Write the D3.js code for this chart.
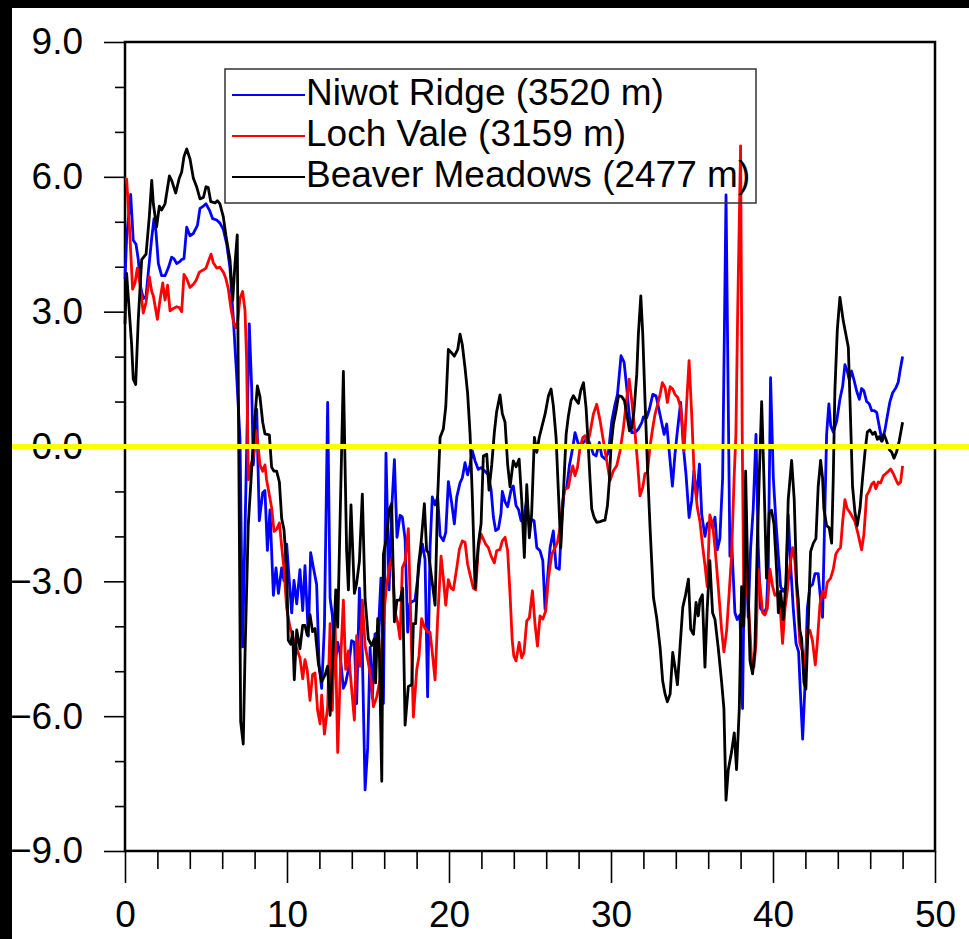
<!DOCTYPE html>
<html>
<head>
<meta charset="utf-8">
<script src="https://cdn.jsdelivr.net/npm/d3@7"></script>
<style>
  body { margin: 0; background: #fff; }
  text { font-family: "Liberation Sans", Arial, Helvetica, sans-serif; }
</style>
</head>
<body>
<div id="chart"></div>
<script>
// series names and colours
var seriesNames = ["Niwot Ridge (3520 m)", "Loch Vale (3159 m)", "Beaver Meadows (2477 m)"];
var seriesColors = ["#0000ff", "#ff0000", "#000000"];

// tick values
var yMajorTicks = [-9, -6, -3, 0, 3, 6, 9];
var yMinorTicks = [-8, -7, -5, -4, -2, -1, 1, 2, 4, 5, 7, 8];
var xMajorTicks = [0, 10, 20, 30, 40, 50];
var xMinorTicks = [2, 4, 6, 8, 12, 14, 16, 18, 22, 24, 26, 28, 32, 34, 36, 38, 42, 44, 46, 48];

// [time, value]
var niwot = [[0,3.73],[0.10,4.64],[0.35,5.61],[0.51,4.59],[0.68,4.5],[0.82,4.16],[0.97,3.54],[1.13,3.29],[1.30,3.35],[1.44,3.88],[1.65,4.64],[1.79,5.07],[1.91,4.78],[2.06,4.07],[2.26,3.8],[2.47,3.8],[2.67,3.97],[2.88,4.21],[3.02,4.18],[3.19,4.07],[3.40,4.12],[3.50,4.16],[3.64,4.18],[3.81,4.88],[4.01,4.69],[4.22,4.74],[4.47,4.92],[4.63,5.3],[4.84,5.35],[5.0,5.4],[5.21,5.26],[5.41,5.07],[5.66,5.04],[5.86,4.97],[6.07,4.83],[6.28,4.5],[6.48,3.97],[6.69,2.83],[6.89,1.59],[7.10,0.16],[7.26,-4.46],[7.47,-0.79],[7.67,2.73],[7.82,1.3],[7.92,-0.41],[8.13,0.83],[8.29,-1.65],[8.50,-1.03],[8.64,-0.98],[8.79,-2.31],[8.95,-1.41],[9.16,-3.31],[9.32,-2.7],[9.47,-3.27],[9.67,-2.7],[9.81,-2.98],[9.98,-2.17],[10.14,-2.98],[10.29,-3.7],[10.43,-2.98],[10.6,-3.5],[10.8,-2.74],[10.97,-3.65],[11.11,-2.65],[11.32,-4.22],[11.46,-2.36],[11.63,-2.7],[11.83,-3.07],[11.98,-4.85],[12.14,-5.38],[12.31,-4.0],[12.51,0.98],[12.66,-3.38],[12.8,-3.76],[12.96,-4.89],[13.13,-4.36],[13.27,-4.6],[13.48,-5.38],[13.62,-5.26],[13.79,-4.96],[13.99,-4.32],[14.16,-4.36],[14.3,-5.72],[14.47,-3.15],[14.65,-4.59],[14.82,-7.64],[14.98,-6.7],[15.13,-4.47],[15.27,-5.6],[15.43,-4.17],[15.64,-4.13],[15.8,-2.93],[15.95,-5.72],[16.11,-0.15],[16.3,-3.19],[16.46,-1.42],[16.63,-0.29],[16.79,-2.02],[16.98,-1.53],[17.12,-1.57],[17.29,-2.06],[17.45,-4.13],[17.59,-3.49],[17.74,-3.45],[17.9,-3.42],[18.07,-2.93],[18.21,-2.47],[18.36,-2.17],[18.52,-2.51],[18.68,-5.57],[18.83,-2.25],[18.97,-1.12],[19.14,-1.3],[19.3,-1.12],[19.45,-1.98],[19.65,-2.1],[19.8,-1.91],[19.96,-0.78],[20.17,-1.27],[20.33,-1.72],[20.48,-1.12],[20.68,-0.81],[20.82,-0.7],[20.99,-0.36],[21.15,-0.63],[21.3,-0.4],[21.44,-0.1],[21.61,-0.32],[21.81,-0.51],[21.98,-0.47],[22.22,-0.55],[22.43,-0.63],[22.6,-0.97],[22.74,-1.57],[22.88,-1.87],[23.05,-1.83],[23.21,-1.49],[23.29,-1.0],[23.46,-1.23],[23.62,-1.34],[23.83,-0.97],[23.97,-0.88],[24.14,-1.32],[24.29,-1.4],[24.45,-1.65],[24.59,-1.69],[24.8,-1.17],[24.96,-1.8],[25.1,-1.62],[25.25,-1.65],[25.42,-2.25],[25.62,-2.32],[25.79,-2.54],[25.93,-3.62],[26.07,-2.99],[26.24,-2.25],[26.44,-1.88],[26.61,-2.69],[26.81,-2.73],[26.96,-1.65],[27.1,-0.99],[27.27,-0.91],[27.43,-0.43],[27.64,-0.02],[27.78,0.31],[27.99,0.05],[28.2,0.05],[28.4,0.13],[28.54,0.2],[28.71,0.05],[28.91,-0.17],[29.08,-0.21],[29.28,0.09],[29.43,-0.21],[29.63,-0.28],[29.84,-0.13],[30.05,0.57],[30.25,0.94],[30.4,1.16],[30.62,2.02],[30.81,1.87],[30.97,1.31],[31.14,0.65],[31.28,0.31],[31.49,0.31],[31.69,0.39],[31.9,0.53],[32.0,0.66],[32.2,0.64],[32.37,0.83],[32.58,1.16],[32.78,1.13],[32.93,0.87],[33.13,0.53],[33.28,0.27],[33.44,0.5],[33.6,-0.13],[33.79,-0.88],[33.95,-0.17],[34.1,0.35],[34.3,0.98],[34.47,-0.02],[34.63,-0.62],[34.82,-1.58],[34.98,-1.21],[35.12,-0.54],[35.29,-1.14],[35.46,-0.39],[35.6,-1.51],[35.8,-2.0],[35.94,-1.72],[36.1,-1.67],[36.27,-1.81],[36.42,-1.57],[36.56,-2.3],[36.72,-2.05],[36.89,-0.7],[37.1,5.6],[37.34,-2.44],[37.44,-2.05],[37.65,-3.7],[37.79,-3.85],[37.96,-3.75],[38.12,-5.83],[38.27,-1.57],[38.47,-3.8],[38.62,-2.25],[38.78,-1.38],[38.95,0.27],[39.09,-2.25],[39.23,-3.6],[39.44,-3.7],[39.6,-3.6],[39.71,-2.64],[39.85,1.53],[40.02,-0.7],[40.18,-1.67],[40.33,-2.44],[40.47,-3.12],[40.63,-3.22],[40.8,-3.12],[40.94,-1.52],[41.09,-2.64],[41.25,-3.6],[41.42,-4.38],[41.58,-4.57],[41.7,-5.54],[41.83,-6.51],[41.97,-5.35],[42.12,-3.6],[42.28,-3.12],[42.44,-3.07],[42.59,-2.83],[42.79,-2.83],[42.94,-3.41],[43.06,-3.8],[43.21,-1.28],[43.31,0.27],[43.45,0.95],[43.56,0.47],[43.72,0.32],[43.93,0.56],[44.13,1.05],[44.3,1.34],[44.44,1.82],[44.58,1.68],[44.71,1.48],[44.85,1.68],[45.0,1.48],[45.16,1.24],[45.33,1.05],[45.47,1.29],[45.61,1.24],[45.78,1.0],[45.94,0.95],[46.09,0.8],[46.23,0.8],[46.4,0.76],[46.5,0.56],[46.6,0.37],[46.74,0.12],[46.91,0.37],[47.05,0.66],[47.22,1.0],[47.38,1.19],[47.59,1.31],[47.73,1.43],[47.84,1.68],[48.0,2.0]];

var lochVale = [[0,5.95],[0.10,5.95],[0.27,4.92],[0.47,3.5],[0.62,3.64],[0.76,3.97],[0.93,3.59],[1.13,2.97],[1.30,3.21],[1.50,3.78],[1.65,3.45],[1.75,3.35],[2.0,2.83],[2.16,3.26],[2.33,3.64],[2.47,3.26],[2.63,3.59],[2.78,3.02],[2.98,3.07],[3.19,3.11],[3.35,3.09],[3.50,3.0],[3.64,3.83],[3.81,3.73],[4.01,3.54],[4.22,3.61],[4.38,3.69],[4.59,3.88],[4.79,3.92],[5.0,3.97],[5.14,4.11],[5.31,4.28],[5.45,4.09],[5.66,3.97],[5.86,3.99],[6.07,3.88],[6.23,3.73],[6.38,3.5],[6.54,3.07],[6.69,2.78],[6.83,2.64],[6.95,2.78],[7.10,3.3],[7.26,3.45],[7.41,3.02],[7.51,1.88],[7.61,-0.74],[7.78,-0.41],[7.92,-0.22],[8.09,0.35],[8.23,-0.03],[8.33,-0.41],[8.50,-0.55],[8.64,-0.41],[8.74,-0.74],[8.91,-1.08],[9.05,-1.36],[9.20,-1.89],[9.36,-1.84],[9.53,-1.7],[9.67,-2.22],[9.81,-2.7],[9.98,-3.6],[10.19,-4.03],[10.39,-4.27],[10.6,-4.5],[10.8,-4.7],[10.97,-5.17],[11.11,-4.74],[11.25,-4.98],[11.42,-5.65],[11.58,-5.07],[11.73,-5.04],[11.89,-5.87],[12.04,-6.17],[12.14,-5.53],[12.31,-6.4],[12.51,-5.79],[12.66,-3.94],[12.8,-5.87],[12.96,-3.76],[13.13,-6.81],[13.33,-4.6],[13.48,-3.42],[13.62,-4.96],[13.79,-4.55],[13.95,-5.23],[14.16,-6.09],[14.3,-4.21],[14.51,-4.89],[14.65,-3.42],[14.82,-4.43],[15.02,-4.81],[15.19,-5.19],[15.33,-5.79],[15.54,-5.57],[15.74,-5.19],[15.95,-3.83],[16.15,-3.08],[16.36,-2.62],[16.5,-2.47],[16.67,-3.68],[16.83,-3.91],[16.98,-4.28],[17.12,-2.7],[17.29,-2.55],[17.49,-1.83],[17.66,-4.13],[17.8,-6.02],[18.01,-4.96],[18.15,-4.66],[18.31,-3.83],[18.48,-4.02],[18.68,-4.13],[18.83,-4.13],[18.97,-4.59],[19.14,-5.19],[19.3,-3.83],[19.51,-2.44],[19.65,-2.93],[19.8,-3.53],[19.96,-2.96],[20.12,-3.15],[20.27,-3.19],[20.48,-2.7],[20.64,-2.29],[20.82,-2.1],[20.99,-2.13],[21.15,-2.62],[21.3,-2.85],[21.5,-3.15],[21.65,-3.19],[21.81,-2.25],[21.98,-1.95],[22.12,-2.06],[22.26,-2.17],[22.43,-2.25],[22.6,-2.44],[22.8,-2.59],[22.94,-2.32],[23.15,-2.29],[23.29,-2.1],[23.46,-2.02],[23.62,-2.32],[23.77,-3.3],[23.9,-4.3],[24.0,-4.66],[24.14,-4.77],[24.33,-4.36],[24.49,-4.7],[24.63,-4.58],[24.8,-3.88],[24.96,-3.81],[25.15,-3.21],[25.31,-3.95],[25.46,-4.44],[25.62,-3.77],[25.79,-3.84],[25.97,-3.66],[26.14,-2.92],[26.34,-2.4],[26.55,-2.25],[26.69,-2.14],[26.86,-1.8],[27.02,-1.21],[27.16,-0.95],[27.37,-0.91],[27.51,-0.62],[27.64,-0.43],[27.78,-0.65],[27.93,-0.47],[28.09,-0.02],[28.26,0.2],[28.4,0.24],[28.54,0.05],[28.71,0.31],[28.91,0.72],[29.12,0.94],[29.33,0.57],[29.53,0.13],[29.74,-0.32],[29.94,-0.76],[30.15,-0.54],[30.35,-0.43],[30.56,-0.1],[30.77,0.42],[30.93,0.94],[31.12,1.5],[31.28,1.02],[31.49,0.27],[31.63,-0.32],[31.79,-1.1],[31.96,-0.91],[32.1,-0.6],[32.25,-0.58],[32.41,0.01],[32.58,0.42],[32.72,0.72],[32.88,0.94],[33.03,1.16],[33.17,1.42],[33.34,1.31],[33.48,0.98],[33.65,1.33],[33.81,1.28],[33.95,1.16],[34.12,1.09],[34.3,0.87],[34.43,0.35],[34.51,-0.1],[34.63,0.72],[34.82,1.91],[34.98,0.72],[35.15,-0.76],[35.33,-1.36],[35.49,-1.67],[35.65,-2.2],[35.8,-2.64],[35.94,-3.12],[36.1,-1.52],[36.27,-1.72],[36.42,-2.25],[36.62,-3.12],[36.83,-4.09],[36.97,-4.57],[37.14,-4.09],[37.3,-3.22],[37.44,-2.44],[37.6,-0.7],[37.71,0.27],[37.82,3.0],[38.0,6.69],[38.1,0.27],[38.21,-3.8],[38.37,-2.64],[38.53,-3.8],[38.68,-4.77],[38.82,-4.91],[38.95,-4.38],[39.09,-2.73],[39.23,-3.22],[39.36,-3.7],[39.5,-3.75],[39.65,-3.6],[39.81,-2.73],[39.98,-3.12],[40.12,-3.31],[40.26,-3.27],[40.43,-3.51],[40.59,-4.38],[40.74,-3.6],[40.88,-3.22],[41.05,-2.64],[41.21,-2.25],[41.35,-2.54],[41.5,-3.41],[41.66,-4.38],[41.83,-4.57],[41.97,-4.91],[42.12,-4.09],[42.28,-4.09],[42.44,-4.33],[42.61,-4.86],[42.73,-4.38],[42.9,-3.51],[43.06,-3.22],[43.21,-3.36],[43.35,-3.02],[43.56,-2.93],[43.72,-2.73],[43.88,-2.39],[44.03,-2.3],[44.17,-2.25],[44.3,-1.67],[44.44,-1.18],[44.58,-1.38],[44.75,-1.47],[44.91,-1.57],[45.06,-1.67],[45.26,-1.96],[45.47,-2.3],[45.61,-1.96],[45.78,-1.09],[45.94,-0.99],[46.09,-0.84],[46.23,-0.79],[46.35,-0.94],[46.5,-0.79],[46.64,-0.81],[46.81,-0.65],[46.97,-0.6],[47.12,-0.55],[47.26,-0.5],[47.42,-0.6],[47.59,-0.74],[47.73,-0.84],[47.88,-0.79],[48.0,-0.43]];

var beaverMeadows = [[0,2.73],[0.10,3.85],[0.41,2.26],[0.51,1.5],[0.66,1.38],[0.82,2.83],[1.03,4.16],[1.30,4.28],[1.50,5.11],[1.65,5.92],[1.75,5.4],[1.95,4.88],[2.12,5.35],[2.26,5.26],[2.47,5.4],[2.74,6.02],[2.88,5.92],[3.13,5.64],[3.35,5.97],[3.50,6.11],[3.64,6.45],[3.81,6.62],[4.01,6.4],[4.22,5.97],[4.42,5.78],[4.63,5.51],[4.84,5.54],[5.0,5.78],[5.14,5.76],[5.29,5.45],[5.56,5.42],[5.70,5.47],[5.86,5.4],[6.07,5.11],[6.23,4.69],[6.48,4.16],[6.65,3.26],[6.79,4.07],[6.93,4.71],[7.14,-6.12],[7.30,-6.62],[7.41,-4.6],[7.61,-1.74],[7.82,-0.5],[8.02,0.64],[8.17,1.35],[8.33,1.11],[8.50,0.54],[8.64,0.28],[8.91,0.26],[9.05,-0.46],[9.20,-0.55],[9.36,-0.55],[9.53,-0.79],[9.67,-1.6],[9.81,-1.84],[9.98,-2.7],[10.08,-4.31],[10.23,-4.4],[10.35,-4.12],[10.45,-5.19],[10.6,-4.08],[10.8,-4.5],[10.97,-3.98],[11.11,-3.98],[11.25,-4.2],[11.42,-3.74],[11.58,-4.12],[11.73,-4.05],[11.93,-4.81],[12.14,-5.23],[12.35,-5.08],[12.51,-4.89],[12.66,-5.98],[12.85,-4.5],[13.01,-3.19],[13.13,-4.02],[13.48,1.67],[13.68,-2.32],[13.79,-3.19],[13.95,-1.3],[14.16,-3.27],[14.3,-3.04],[14.47,-2.55],[14.65,-1.06],[14.82,-3.38],[15.02,-4.28],[15.23,-4.43],[15.39,-4.28],[15.47,-5.26],[15.6,-3.83],[15.7,-4.55],[15.85,-7.45],[15.95,-2.4],[16.15,-2.02],[16.3,-1.42],[16.46,-1.27],[16.63,-3.9],[16.79,-3.42],[16.98,-3.42],[17.14,-3.15],[17.29,-6.2],[17.49,-5.34],[17.7,-5.3],[17.8,-3.94],[17.94,-3.94],[18.11,-2.66],[18.27,-2.17],[18.48,-1.27],[18.62,-2.32],[18.73,-2.36],[18.93,-2.93],[19.14,-3.53],[19.3,-1.12],[19.45,0.2],[19.65,0.39],[19.8,0.88],[19.96,2.16],[20.17,2.08],[20.33,2.01],[20.54,2.16],[20.68,2.5],[20.82,2.27],[20.99,1.75],[21.15,1.18],[21.3,0.28],[21.44,-1.12],[21.61,-3.15],[21.81,-2.17],[21.98,-1.72],[22.12,-0.21],[22.33,-0.17],[22.47,-0.97],[22.64,-0.4],[22.8,0.32],[22.94,0.77],[23.15,1.15],[23.29,0.73],[23.46,0.54],[23.62,-0.4],[23.77,-0.9],[23.97,-0.32],[24.14,-0.45],[24.33,-0.28],[24.49,-1.21],[24.65,-2.47],[24.8,-0.85],[24.96,-2.03],[25.1,-1.51],[25.27,0.2],[25.42,-0.13],[25.57,0.2],[25.72,0.42],[25.93,0.72],[26.14,1.13],[26.3,1.28],[26.44,0.91],[26.61,0.2],[26.75,-0.99],[26.9,-2.25],[27.06,-1.06],[27.23,0.27],[27.37,0.68],[27.53,1.02],[27.68,1.13],[27.84,1.03],[27.99,0.96],[28.13,1.24],[28.3,1.42],[28.46,0.87],[28.6,0.0],[28.71,-0.76],[28.81,-1.39],[28.96,-1.58],[29.12,-1.69],[29.33,-1.67],[29.49,-1.65],[29.63,-1.64],[29.78,-1.32],[29.9,-0.76],[30.0,0.0],[30.15,0.5],[30.31,0.79],[30.46,1.13],[30.66,1.11],[30.83,1.02],[30.97,0.72],[31.14,0.35],[31.28,0.42],[31.42,0.79],[31.59,1.61],[31.69,2.5],[31.84,3.35],[31.96,2.5],[32.1,1.02],[32.27,-0.62],[32.41,-1.8],[32.62,-3.36],[32.82,-3.81],[33.03,-4.47],[33.19,-5.22],[33.34,-5.51],[33.48,-5.68],[33.65,-5.51],[33.81,-4.58],[33.95,-4.91],[34.1,-5.3],[34.26,-4.47],[34.43,-3.58],[34.61,-3.29],[34.78,-2.95],[34.92,-4.07],[35.09,-4.18],[35.25,-3.47],[35.39,-3.77],[35.49,-3.41],[35.64,-3.3],[35.8,-4.91],[35.94,-3.6],[36.1,-2.54],[36.27,-3.7],[36.42,-3.85],[36.62,-4.48],[36.83,-5.25],[36.97,-5.83],[37.1,-7.87],[37.24,-7.19],[37.44,-6.8],[37.61,-6.37],[37.75,-7.19],[37.92,-5.83],[38.06,-3.12],[38.2,-4.0],[38.31,-0.55],[38.45,-3.0],[38.58,-4.77],[38.74,-5.06],[38.88,-4.55],[39.03,-2.15],[39.15,-0.7],[39.3,1.0],[39.44,-0.7],[39.6,-2.93],[39.77,-1.47],[39.91,-1.42],[40.06,-1.72],[40.22,-2.73],[40.33,-3.7],[40.47,-3.22],[40.63,-3.85],[40.8,-3.02],[40.94,-1.18],[41.15,-0.31],[41.31,-1.18],[41.46,-3.02],[41.56,-3.41],[41.66,-4.09],[41.77,-4.28],[41.91,-5.25],[42.03,-5.4],[42.18,-3.9],[42.32,-2.34],[42.49,-2.15],[42.65,-2.05],[42.79,-0.89],[42.94,-0.31],[43.06,-0.7],[43.14,-1.38],[43.31,-1.76],[43.47,-1.81],[43.62,-2.15],[43.72,-0.7],[43.82,1.24],[43.97,2.6],[44.13,3.32],[44.34,2.79],[44.65,2.21],[44.75,1.05],[44.91,-0.89],[45.06,-1.47],[45.2,-1.76],[45.37,-1.38],[45.53,-0.7],[45.68,-0.12],[45.82,0.32],[45.98,0.37],[46.15,0.27],[46.3,0.32],[46.44,0.16],[46.56,0.22],[46.7,0.12],[46.85,0.27],[47.01,0.12],[47.18,-0.07],[47.32,-0.12],[47.47,-0.26],[47.63,-0.12],[47.79,0.12],[48.0,0.54]];

var allSeries = [niwot, lochVale, beaverMeadows];

var svgWidth = 969;
var svgHeight = 939;

var svg = d3.select("#chart")
  .append("svg")
  .attr("width", svgWidth)
  .attr("height", svgHeight);

svg.append("rect").attr("width", svgWidth).attr("height", svgHeight).attr("fill", "#fff");
// black strips along the left and top edges
svg.append("rect").attr("x", 0).attr("y", 0).attr("width", 12).attr("height", svgHeight).attr("fill", "#000");
svg.append("rect").attr("x", 0).attr("y", 0).attr("width", svgWidth).attr("height", 8).attr("fill", "#000");

var xScale = d3.scaleLinear().domain([0, 50]).range([125, 935]);
var yScale = d3.scaleLinear().domain([-9, 9]).range([851, 42]);

// axes
var leftMinor = d3.axisLeft(yScale).tickValues(yMinorTicks).tickSize(10).tickSizeOuter(0).tickFormat("");
var leftMajor = d3.axisLeft(yScale).tickValues(yMajorTicks).tickSize(21).tickSizeOuter(0)
  .tickPadding(21).tickFormat(d3.format(".1f"));
var bottomMinor = d3.axisBottom(xScale).tickValues(xMinorTicks).tickSize(18).tickSizeOuter(0).tickFormat("");
var bottomMajor = d3.axisBottom(xScale).tickValues(xMajorTicks).tickSize(32).tickSizeOuter(0)
  .tickPadding(18).tickFormat(d3.format("d"));

function styleAxis(g) {
  g.select(".domain").remove();
  g.selectAll(".tick line").attr("stroke", "#000").attr("stroke-width", 1.6);
  g.selectAll(".tick text").attr("fill", "#000").style("font-size", "37px");
}

svg.append("g").attr("transform", "translate(125,0)").call(leftMinor).call(styleAxis);
svg.append("g").attr("transform", "translate(125,0)").call(leftMajor).call(styleAxis);
svg.append("g").attr("transform", "translate(0,851)").call(bottomMinor).call(styleAxis);
svg.append("g").attr("transform", "translate(0,851)").call(bottomMajor).call(styleAxis);

// frame
svg.append("rect")
  .attr("x", xScale(0)).attr("y", yScale(9))
  .attr("width", xScale(50) - xScale(0))
  .attr("height", yScale(-9) - yScale(9))
  .attr("fill", "none")
  .attr("stroke", "#000")
  .attr("stroke-width", 2.5);

// lines
var line = d3.line()
  .x(d => xScale(d[0]))
  .y(d => yScale(d[1]));

svg.selectAll(".series")
  .data(allSeries)
  .enter()
  .append("path")
  .attr("class", "series")
  .attr("d", line)
  .attr("fill", "none")
  .attr("stroke", (d, i) => seriesColors[i])
  .attr("stroke-width", 2.8)
  .attr("stroke-linejoin", "round");

// zero line
svg.append("line")
  .attr("x1", 12).attr("x2", svgWidth)
  .attr("y1", yScale(0)).attr("y2", yScale(0))
  .attr("stroke", "#ffff00")
  .attr("stroke-width", 5);

// legend
var legend = svg.append("g");
legend.append("rect")
  .attr("x", 225).attr("y", 69)
  .attr("width", 531).attr("height", 134)
  .attr("fill", "none")
  .attr("stroke", "#333")
  .attr("stroke-width", 1.5);

seriesNames.forEach(function(name, i) {
  var baseY = 105 + i * 41;
  legend.append("line")
    .attr("x1", 232).attr("x2", 305)
    .attr("y1", baseY - 10).attr("y2", baseY - 10)
    .attr("stroke", seriesColors[i])
    .attr("stroke-width", 2);
  legend.append("text")
    .attr("x", 306).attr("y", baseY)
    .style("font-size", "37px")
    .attr("fill", "#000")
    .text(name);
});
</script>
</body>
</html>
